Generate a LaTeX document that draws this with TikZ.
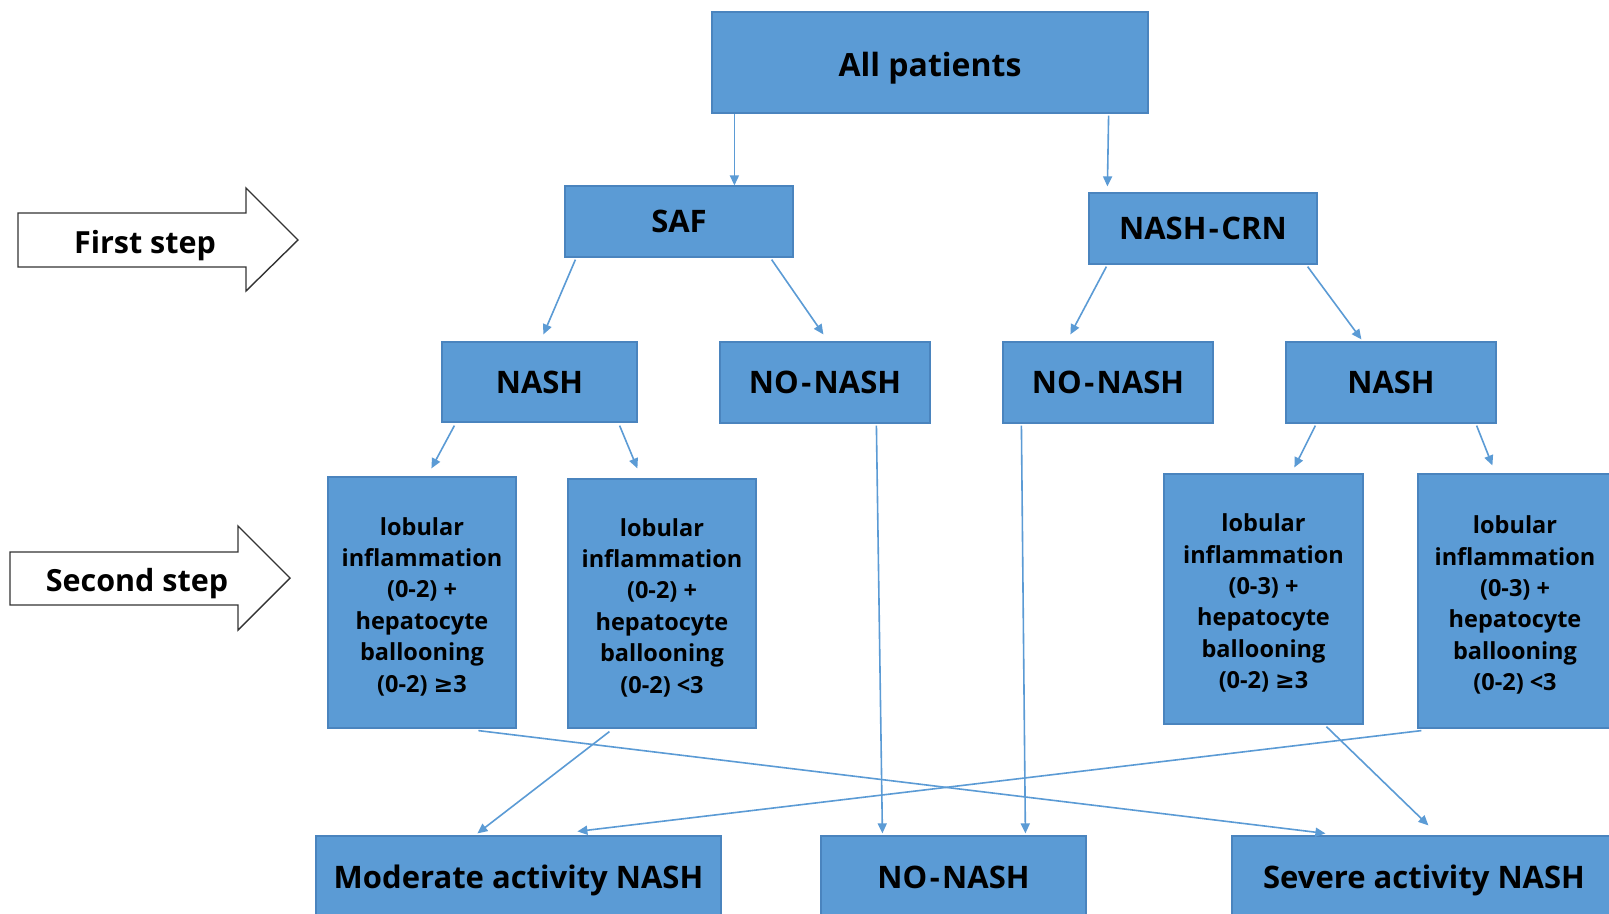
\documentclass[tikz,border=0pt]{standalone}
\usepackage{fontspec}
\setmainfont{Open Sans}
\newfontfamily\symfont{DejaVu Sans}
\usetikzlibrary{calc,arrows.meta}
\definecolor{boxblue}{HTML}{5B9BD5}
\definecolor{boxedge}{HTML}{4A84BE}
\definecolor{linkblue}{HTML}{5B9BD5}
\newcommand{\hy}{\kern2.5pt-\kern2.5pt}
\newcommand{\gesym}{{\symfont\bfseries ≥}}
\newcommand{\topstrut}{\rule{0pt}{26pt}}
\tikzset{
  bx/.style={draw=boxedge, line width=1.2pt, fill=boxblue, inner sep=0pt, align=center, text=black, font=\bfseries\fontsize{31}{36}\selectfont, text height=22.1pt, text depth=0pt},
  small/.style={font=\bfseries\fontsize{23.5}{31.4}\selectfont, text height=, text depth=},
  conn/.style={draw=linkblue, line width=1.6pt, -{Triangle[length=10pt,width=9pt]}},
  stepar/.style={draw=black!80, line width=1.4pt, fill=white},
  steptext/.style={font=\bfseries\fontsize{30.5}{34}\selectfont}
}
\begin{document}
\begin{tikzpicture}[x=1pt,y=-1pt]
\clip (0,0) rectangle (1609,913);
\useasboundingbox (0,0) rectangle (1609,913);
\fill[white] (0,0) rectangle (1609,913);

% step arrows
\draw[stepar] (18,213) -- (246,213) -- (246,188) -- (298,240) -- (246,291) -- (246,267) -- (18,267) -- cycle;
\node[steptext] (s1) at (145,246) {First step};
\draw[stepar] (10,552) -- (238,552) -- (238,526) -- (290,578) -- (238,630) -- (238,605) -- (10,605) -- cycle;
\node[steptext] (s2) at (137,584) {Second step};

% boxes
\node[bx, minimum width=436, minimum height=101, font=\bfseries\fontsize{32}{36}\selectfont, text height=27.8pt] (all) at (930,62.5) {All patients};
\node[bx, minimum width=228, minimum height=71] (saf) at (679,221.5) {SAF};
\node[bx, minimum width=228, minimum height=71] (crn) at (1203,228.5) {NASH\hy CRN};
\node[bx, minimum width=195, minimum height=80] (nashL) at (539.5,382) {NASH};
\node[bx, minimum width=210, minimum height=81] (nonL) at (825,382.5) {NO\hy NASH};
\node[bx, minimum width=210, minimum height=81] (nonR) at (1108,382.5) {NO\hy NASH};
\node[bx, minimum width=210, minimum height=81] (nashR) at (1391,382.5) {NASH};

\node[bx, small, minimum width=188, minimum height=251] (L1) at (422,602.5) {\topstrut lobular\\inflammation\\(0-2) +\\hepatocyte\\ballooning\\(0-2) \gesym3};
\node[bx, small, minimum width=188, minimum height=249] (L2) at (662,603.5) {\topstrut lobular\\inflammation\\(0-2) +\\hepatocyte\\ballooning\\(0-2) <3};
\node[bx, small, minimum width=199, minimum height=250] (R1) at (1263.5,599) {\topstrut lobular\\inflammation\\(0-3) +\\hepatocyte\\ballooning\\(0-2) \gesym3};
\node[bx, small, minimum width=194, minimum height=254] (R2) at (1515,601) {\topstrut lobular\\inflammation\\(0-3) +\\hepatocyte\\ballooning\\(0-2) <3};

\node[bx, minimum width=405, minimum height=82] (modB) at (518.5,877) {Moderate activity NASH};
\node[bx, minimum width=265, minimum height=82] (noB) at (953.5,877) {NO\hy NASH};
\node[bx, minimum width=384, minimum height=82] (sevB) at (1424,877) {Severe activity NASH};

% connectors
\draw[conn] ($(all.south west)+(23,0)$) -- ($(saf.north west)+(170,0)$);
\draw[conn] ($(all.south east)+(-40,2)$) -- ($(crn.north west)+(19,-6)$);
\draw[conn] ($(saf.south west)+(11,2)$) -- ($(nashL.north west)+(102,-7)$);
\draw[conn] ($(saf.south east)+(-22,2)$) -- ($(nonL.north west)+(104,-7)$);
\draw[conn] ($(crn.south west)+(18,2)$) -- ($(nonR.north west)+(68,-7)$);
\draw[conn] ($(crn.south east)+(-10,2)$) -- ($(nashR.north west)+(76,-2)$);
\draw[conn] ($(nashL.south west)+(13,3)$) -- ($(L1.north west)+(104,-8)$);
\draw[conn] ($(nashL.south east)+(-18,3)$) -- ($(L2.north west)+(70,-10)$);
\draw[conn] ($(nashR.south west)+(30,2)$) -- ($(R1.north west)+(131,-6)$);
\draw[conn] ($(nashR.south east)+(-20,2)$) -- ($(R2.north west)+(75,-8)$);
\draw[conn] ($(nonL.south west)+(157,2)$) -- ($(noB.north west)+(62,-2)$);
\draw[conn] ($(nonR.south west)+(19,2)$) -- ($(noB.north west)+(205,-2)$);
\draw[conn] ($(L1.south west)+(151,2)$) -- ($(sevB.north west)+(94,-2)$);
\draw[conn] ($(L2.south west)+(42,3)$) -- ($(modB.north west)+(162,-2)$);
\draw[conn] ($(R1.south west)+(163,2)$) -- ($(sevB.north west)+(197,-10)$);
\draw[conn] ($(R2.south west)+(4,2)$) -- ($(modB.north west)+(262,-4)$);
\end{tikzpicture}
\end{document}
